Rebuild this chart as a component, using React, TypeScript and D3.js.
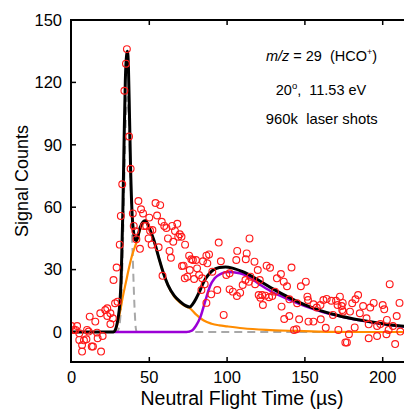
import React from "react";
import * as d3 from "d3";

// ---- measured signal (time in µs, counts) ----
const timeUs: number[] = [
  0, 1.5, 2.6, 3.6, 5, 5, 6.8, 6.8, 8, 9.6, 10, 11, 11.7, 13, 13.8, 15.3, 16.4, 16.8, 18.5, 19,
  20, 21.7, 23, 23, 25, 25, 26.6, 27, 28, 29, 29.6, 31, 31.7, 32.6, 34, 35, 35.6, 37, 38, 39.4,
  40, 41, 41.7, 43, 44, 44.7, 46, 46.6, 48, 49.5, 50, 50.5, 51.5, 52, 54, 55, 56, 57, 58, 58.5,
  59.6, 61, 62, 63, 63.9, 64.7, 65.4, 66.5, 68, 68.6, 69.6, 70.7, 71, 72, 72.8, 73, 74.5, 75.6, 76, 77,
  78, 78.8, 80, 80.7, 82, 83.5, 84, 84.5, 85.6, 86.7, 86.7, 87.3, 88.4, 89.8, 90.5, 93.7, 94.6, 96, 97.8, 99.5,
  101.6, 101.6, 103.7, 105.9, 106.3, 106.5, 108.4, 110, 111.8, 112, 112.6, 114, 114.4, 115, 117.6, 118, 119.7, 120.3, 121, 121.4,
  122.5, 123, 124.6, 125.4, 127, 127.6, 129, 130.8, 132, 134.6, 135, 136.4, 136.7, 138.5, 140, 140, 141.4, 143, 144.6, 145,
  146.3, 147.4, 150.6, 151.6, 152, 152.3, 155.5, 155.5, 157.6, 160, 160.2, 161.9, 163.4, 164, 167, 168, 170, 171, 171.5, 172.5,
  173.6, 174, 174.3, 174.6, 176, 177, 178.3, 179, 180.4, 182, 182.5, 184.2, 185.3, 187.4, 189.6, 191, 191, 192, 194.2, 196.4,
  196.4, 198.5, 200, 201, 202.4, 202.7, 203.8, 204.5, 206.6, 208, 209, 210.8, 211.3,
];
const counts: number[] = [
  2.9, 1, 1, 2.9, -0.6, -3.8, -6.3, -9.4, -4, -3.5, 1, 0.2, 7.4, -7, -7, 5, -0.3, -3, 9, -9.4,
  -1.9, 10.6, 11.4, 7.7, 9, 3.8, 6.6, 25, 13.8, 31, 14.6, 42, 55.8, 71, 116, 129, 136, 94, 78.5, 57,
  51, 48.5, 44.6, 63, 40, 59, 57, 51, 51, 45, 55, 48.7, 42, 49, 62, 56, 40.7, 61, 53, 27,
  51, 50, 45, 39, 35.7, 51, 43.4, 48.6, 52, 45.8, 47, 45.8, 31.7, 31.9, 25.8, 42, 26.6, 36.7, 29.8, 35,
  34.6, 25.5, 34.6, 30.6, 27.4, 20.2, 25.8, 34, 23, 36.7, 14, 33, 37.3, 18.1, 29, 20.2, 43, 34, 8.2, 27.4,
  28.2, 20.5, 19.4, 34.6, 17.3, 39, 18.9, 22.6, 25, 35, 37.8, 24.2, 45, 26.6, 33.8, 23, 29.8, 17.8, 25, 16.5,
  17.8, 13, 17.5, 31.9, 16.7, 30.9, 17.3, 19.4, 25.8, 27.9, 12.2, 24.2, 6.25, 22, 15.7, 7.7, 31, 1, 1.3, 13.8,
  6.1, 22, 24.2, 17, 15.4, 5, 13.3, 5, 11.8, 13, 6.1, 15.4, 2, 15.9, 15, 8.2, 15, 13, 1, 17,
  12.5, 10.6, 14, 9.8, -5, -5, -1.1, 9.8, 13.8, 2.2, 15.7, 17.8, 9, 12.5, 6.6, 3.7, -3, 11.8, 14, 2.9,
  -1.9, 3.8, 13, 10.9, -1.1, 5.8, 1, 23, 2.9, -5.8, 7.7, 14, 0.2,
];

// ---- fit components as [time, counts] ----
const fastFit: [number, number][] = [
  [27, 0], [29, 0], [30.5, 2], [32, 15], [33, 40], [34, 75], [35, 103], [35.9, 113], [36.8, 104],
  [37.7, 80], [38.5, 58], [39.5, 33], [40.5, 12], [41.3, 2], [42, 0], [120, 0], [220, 0],
];
const slowFit: [number, number][] = [
  [28, 0], [29, 2.5], [30, 5.5], [31, 9], [33, 17], [35, 24], [37, 31], [39, 37], [41, 41.5], [42, 43.5],
  [44, 49], [46, 52.5], [47.5, 53.5], [50, 50], [53, 44], [56, 36], [59, 28.5], [62, 22.5], [66, 17],
  [70, 14], [73, 12.5], [76, 11.5], [80, 8.5], [85, 5.5], [90, 4], [95, 3.2], [100, 2.7], [110, 1.8],
  [125, 1], [145, 0.5], [165, 0.1], [185, 0], [220, 0],
];
const lateFit: [number, number][] = [
  [27.5, 0], [74, 0], [77, 0.5], [80, 3], [83, 7.5], [86, 15], [89, 22], [92, 25.8], [96, 28],
  [100, 28.8], [104, 28.7], [112, 27.3], [121, 22.8], [128, 19.6], [140, 15.5], [150, 12.5],
  [160, 10], [170, 8], [180, 6.3], [190, 5], [200, 3.8], [210, 2.9], [220, 2.2],
];
const totalFit: [number, number][] = [
  [0, 0], [27, 0], [28, 0.8], [29, 3], [30, 7], [31, 13], [32, 28], [33, 58], [33.8, 92], [34.6, 121],
  [35.4, 133], [36, 135], [36.6, 127], [37.3, 103], [38, 78], [39, 56], [40, 47.5], [41, 44.2],
  [41.8, 44], [42.5, 45.5], [44, 50], [46, 53], [47.5, 53.5], [50, 50], [53, 44], [56, 36], [59, 28.5],
  [62, 22.5], [66, 17.5], [70, 14.5], [73, 12.8], [76, 12], [78, 13.5], [80, 16], [82, 19], [84, 22.5],
  [86, 25.5], [88, 27.5], [91, 29.8], [95, 31], [99, 31.3], [104, 30.6], [110, 29], [120, 25],
  [130, 20.5], [140, 16.5], [150, 13], [160, 10.3], [170, 8.2], [180, 6.5], [190, 5.2], [200, 4],
  [210, 3], [220, 2.3],
];

const xTicks = [0, 50, 100, 150, 200];
const yTicks = [0, 30, 60, 90, 120, 150];

const W = 404;
const H = 410;
const left = 71;
const top = 20;
const bottom = 362;

export default function App() {
  const x = d3.scaleLinear().domain([0, 220]).range([71.5, 71.5 + 220 * 1.556]);
  const y = d3.scaleLinear().domain([0, 150]).range([332, 20]);

  const line = d3
    .line<[number, number]>()
    .x((d) => x(d[0]))
    .y((d) => y(d[1]))
    .curve(d3.curveMonotoneX);

  const font = "'Liberation Sans', Arial, sans-serif";

  return (
    <svg
      width={W}
      height={H}
      style={{ position: "absolute", left: 0, top: 0, display: "block", background: "#fff" }}
      fontFamily={font}
    >
      <defs>
        <clipPath id="plot">
          <rect x={left} y={top} width={W - left} height={bottom - top} />
        </clipPath>
      </defs>

      <g clipPath="url(#plot)">
        <path d={line(fastFit) || ""} fill="none" stroke="#a8a8a8" strokeWidth={2} strokeDasharray="8,5" />
        <path d={line(slowFit) || ""} fill="none" stroke="#ff8c00" strokeWidth={2.2} />
        <path d={line(lateFit) || ""} fill="none" stroke="#9b00d6" strokeWidth={2.5} />
        <path d={line(totalFit) || ""} fill="none" stroke="#000" strokeWidth={3} />
        {timeUs.map((t, i) => (
          <circle
            key={i}
            cx={x(t)}
            cy={y(counts[i])}
            r={3.4}
            fill="none"
            stroke="#ff1a1a"
            strokeWidth={1.15}
          />
        ))}
      </g>

      {/* frame */}
      <line x1={left} x2={W + 10} y1={top} y2={top} stroke="#000" strokeWidth={2} />
      <line x1={left} x2={W + 10} y1={bottom} y2={bottom} stroke="#000" strokeWidth={2} />
      <line x1={left} x2={left} y1={top - 1} y2={bottom + 1} stroke="#000" strokeWidth={2} />

      {/* x ticks */}
      {xTicks.map((t) => (
        <g key={"x" + t}>
          {t > 0 && <line x1={x(t)} x2={x(t)} y1={bottom} y2={bottom - 5} stroke="#000" strokeWidth={1.5} />}
          {t > 0 && <line x1={x(t)} x2={x(t)} y1={top} y2={top + 5} stroke="#000" strokeWidth={1.5} />}
          <text x={x(t)} y={383} textAnchor="middle" fontSize={16.5} fill="#000">
            {t}
          </text>
        </g>
      ))}

      {/* y ticks */}
      {yTicks.map((v) => (
        <g key={"y" + v}>
          {v > 0 && v < 150 && (
            <line x1={left} x2={left + 5} y1={y(v)} y2={y(v)} stroke="#000" strokeWidth={1.5} />
          )}
          <text x={62} y={y(v) + 5.8} textAnchor="end" fontSize={16.5} fill="#000">
            {v}
          </text>
        </g>
      ))}

      {/* axis titles */}
      <text
        transform={`translate(27.5,181) rotate(-90)`}
        textAnchor="middle"
        fontSize={18}
        fill="#000"
      >
        Signal Counts
      </text>
      <text x={242} y={405} textAnchor="middle" fontSize={19.5} fill="#000">
        Neutral Flight Time (µs)
      </text>

      {/* annotations */}
      <text x={321.5} y={61} textAnchor="middle" fontSize={14.5} fill="#000" style={{ whiteSpace: "pre" }}>
        <tspan fontStyle="italic">m/z</tspan>
        <tspan>{" = 29  (HCO"}</tspan>
        <tspan fontSize={9} dy={-6}>+</tspan>
        <tspan dy={6}>)</tspan>
      </text>
      <text x={321} y={94.5} textAnchor="middle" fontSize={14.5} fill="#000" style={{ whiteSpace: "pre" }}>
        <tspan>20</tspan>
        <tspan fontSize={9.5} dy={-6}>o</tspan>
        <tspan dy={6}>{",  11.53 eV"}</tspan>
      </text>
      <text x={321.8} y={123.5} textAnchor="middle" fontSize={14.8} fill="#000" style={{ whiteSpace: "pre" }}>
        {"960k  laser shots"}
      </text>
    </svg>
  );
}
